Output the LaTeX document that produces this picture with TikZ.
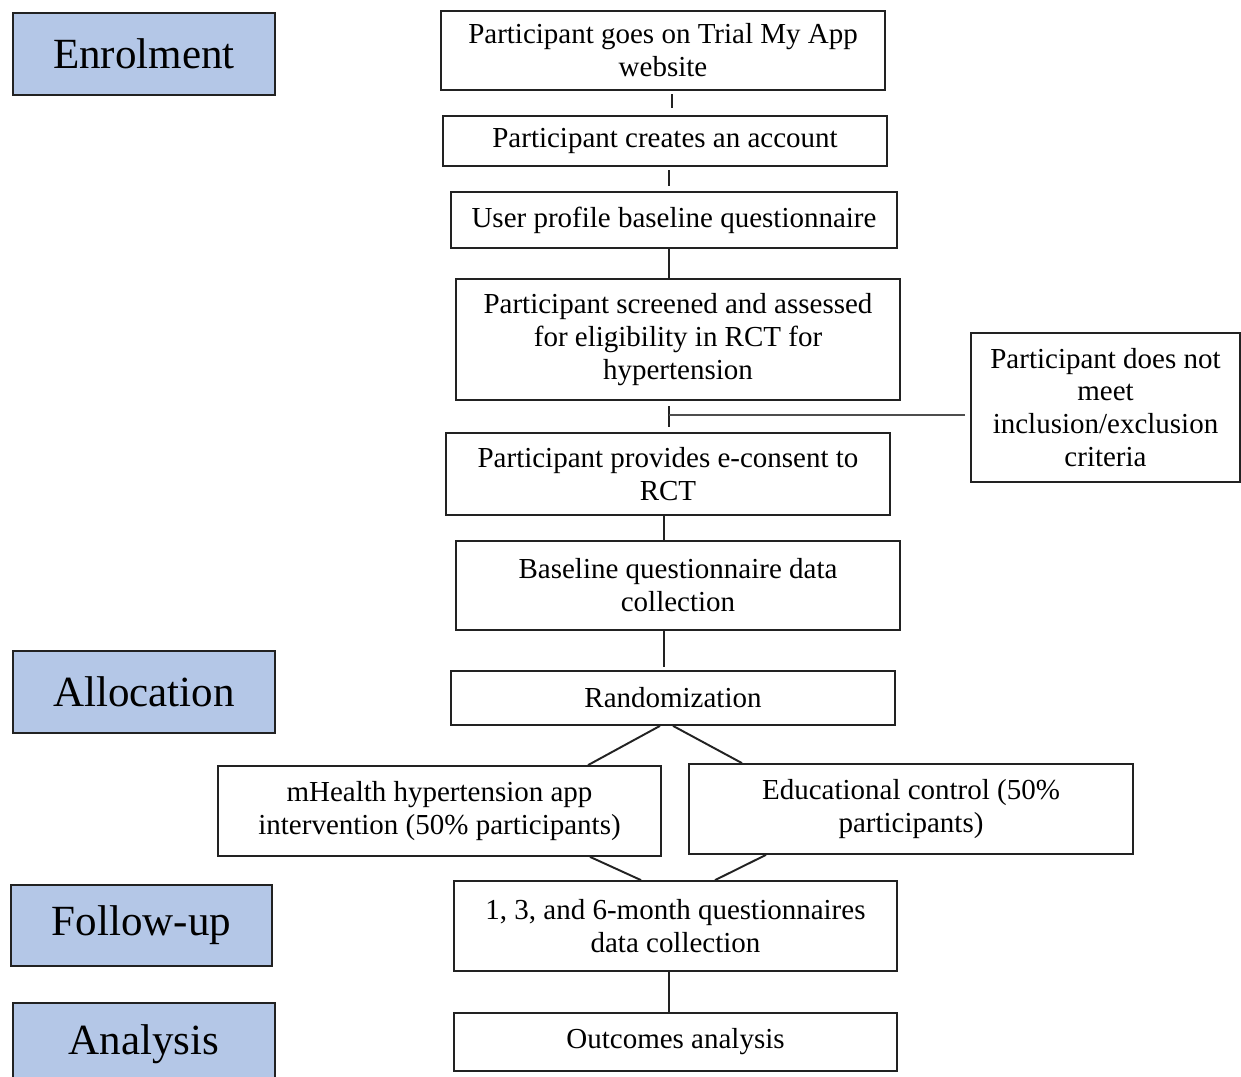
\documentclass[tikz,border=0pt]{standalone}
\usepackage{fontspec}
\setmainfont{Liberation Serif}
\definecolor{labblue}{HTML}{B4C7E7}
\definecolor{edge}{HTML}{222222}
\begin{document}
\begin{tikzpicture}[x=0.02cm,y=-0.02cm,
  box/.style={draw=edge,line width=1pt,fill=white,align=center,inner sep=0pt,
    font=\fontsize{16.5}{18.7}\selectfont},
  lab/.style={draw=edge,line width=1pt,fill=labblue,align=center,inner sep=0pt,
    font=\fontsize{24.5}{28}\selectfont},
  conn/.style={draw=edge,line width=1.1pt}]
\useasboundingbox[fill=white] (0,0) rectangle (1241,1077);
% stage labels
\node[lab,minimum width=5.24cm,minimum height=1.64cm] (en) at (144,54) {Enrolment};
\node[lab,minimum width=5.24cm,minimum height=1.64cm] (al) at (144,692) {Allocation};
\node[lab,minimum width=5.22cm,minimum height=1.62cm] (fu) at (141.5,925.5) {Follow-up};
\node[lab,minimum width=5.24cm,minimum height=1.64cm] (an) at (144,1044) {Analysis};
% flow boxes
\node[box,minimum width=8.88cm,minimum height=1.58cm] (b1) at (663,50.5) {Participant goes on Trial My App\\website};
\node[box,minimum width=8.88cm,minimum height=1.00cm] (b2) at (665,141) {Participant creates an account};
\node[box,minimum width=8.92cm,minimum height=1.12cm] (b3) at (674,220) {User profile baseline questionnaire};
\node[box,minimum width=8.88cm,minimum height=2.42cm] (b4) at (678,339.5) {Participant screened and assessed\\for eligibility in RCT for\\hypertension};
\node[box,minimum width=5.38cm,minimum height=2.98cm] (side) at (1105.5,407.5) {Participant does not\\meet\\inclusion/exclusion\\criteria};
\node[box,minimum width=8.88cm,minimum height=1.64cm] (b5) at (668,474) {Participant provides e-consent to\\RCT};
\node[box,minimum width=8.88cm,minimum height=1.78cm] (b6) at (678,585.5) {Baseline questionnaire data\\collection};
\node[box,minimum width=8.88cm,minimum height=1.08cm] (b7) at (673,698) {Randomization};
\node[box,minimum width=8.86cm,minimum height=1.80cm] (b8) at (439.5,811) {mHealth hypertension app\\intervention (50\% participants)};
\node[box,minimum width=8.88cm,minimum height=1.80cm] (b9) at (911,809) {Educational control (50\%\\participants)};
\node[box,minimum width=8.86cm,minimum height=1.80cm] (b10) at (675.5,926) {1, 3, and 6-month questionnaires\\data collection};
\node[box,minimum width=8.86cm,minimum height=1.16cm] (b11) at (675.5,1042) {Outcomes analysis};
% x positions of connectors
\coordinate (xa) at (672,0);
\coordinate (xb) at (669,0);
\coordinate (xc) at (664,0);
\coordinate (r1) at (660,0);
\coordinate (r2) at (588,0);
\coordinate (r3) at (673,0);
\coordinate (r4) at (742,0);
\coordinate (f1) at (590,0);
\coordinate (f2) at (641,0);
\coordinate (f3) at (766,0);
\coordinate (f4) at (715,0);
\coordinate (tj) at (669,415);
\coordinate (tend) at (965,415);
% connectors
\draw[conn,shorten <=2pt,shorten >=4pt] (b1.south -| xa) -- (b2.north -| xa);
\draw[conn,shorten <=2pt,shorten >=3pt] (b2.south -| xb) -- (b3.north -| xb);
\draw[conn] (b3.south -| xb) -- (b4.north -| xb);
\draw[conn,shorten <=3pt,shorten >=3pt] (b4.south -| xb) -- (b5.north -| xb);
\draw[conn,line width=1.6pt,draw=edge!80] (tend) -- (tj);
\draw[conn] (b5.south -| xc) -- (b6.north -| xc);
\draw[conn,shorten >=2pt] (b6.south -| xc) -- (b7.north -| xc);
\draw[conn] (b7.south -| r1) -- (b8.north -| r2);
\draw[conn] (b7.south -| r3) -- (b9.north -| r4);
\draw[conn] (b8.south -| f1) -- (b10.north -| f2);
\draw[conn] (b9.south -| f3) -- (b10.north -| f4);
\draw[conn] (b10.south -| xb) -- (b11.north -| xb);
\end{tikzpicture}
\end{document}
